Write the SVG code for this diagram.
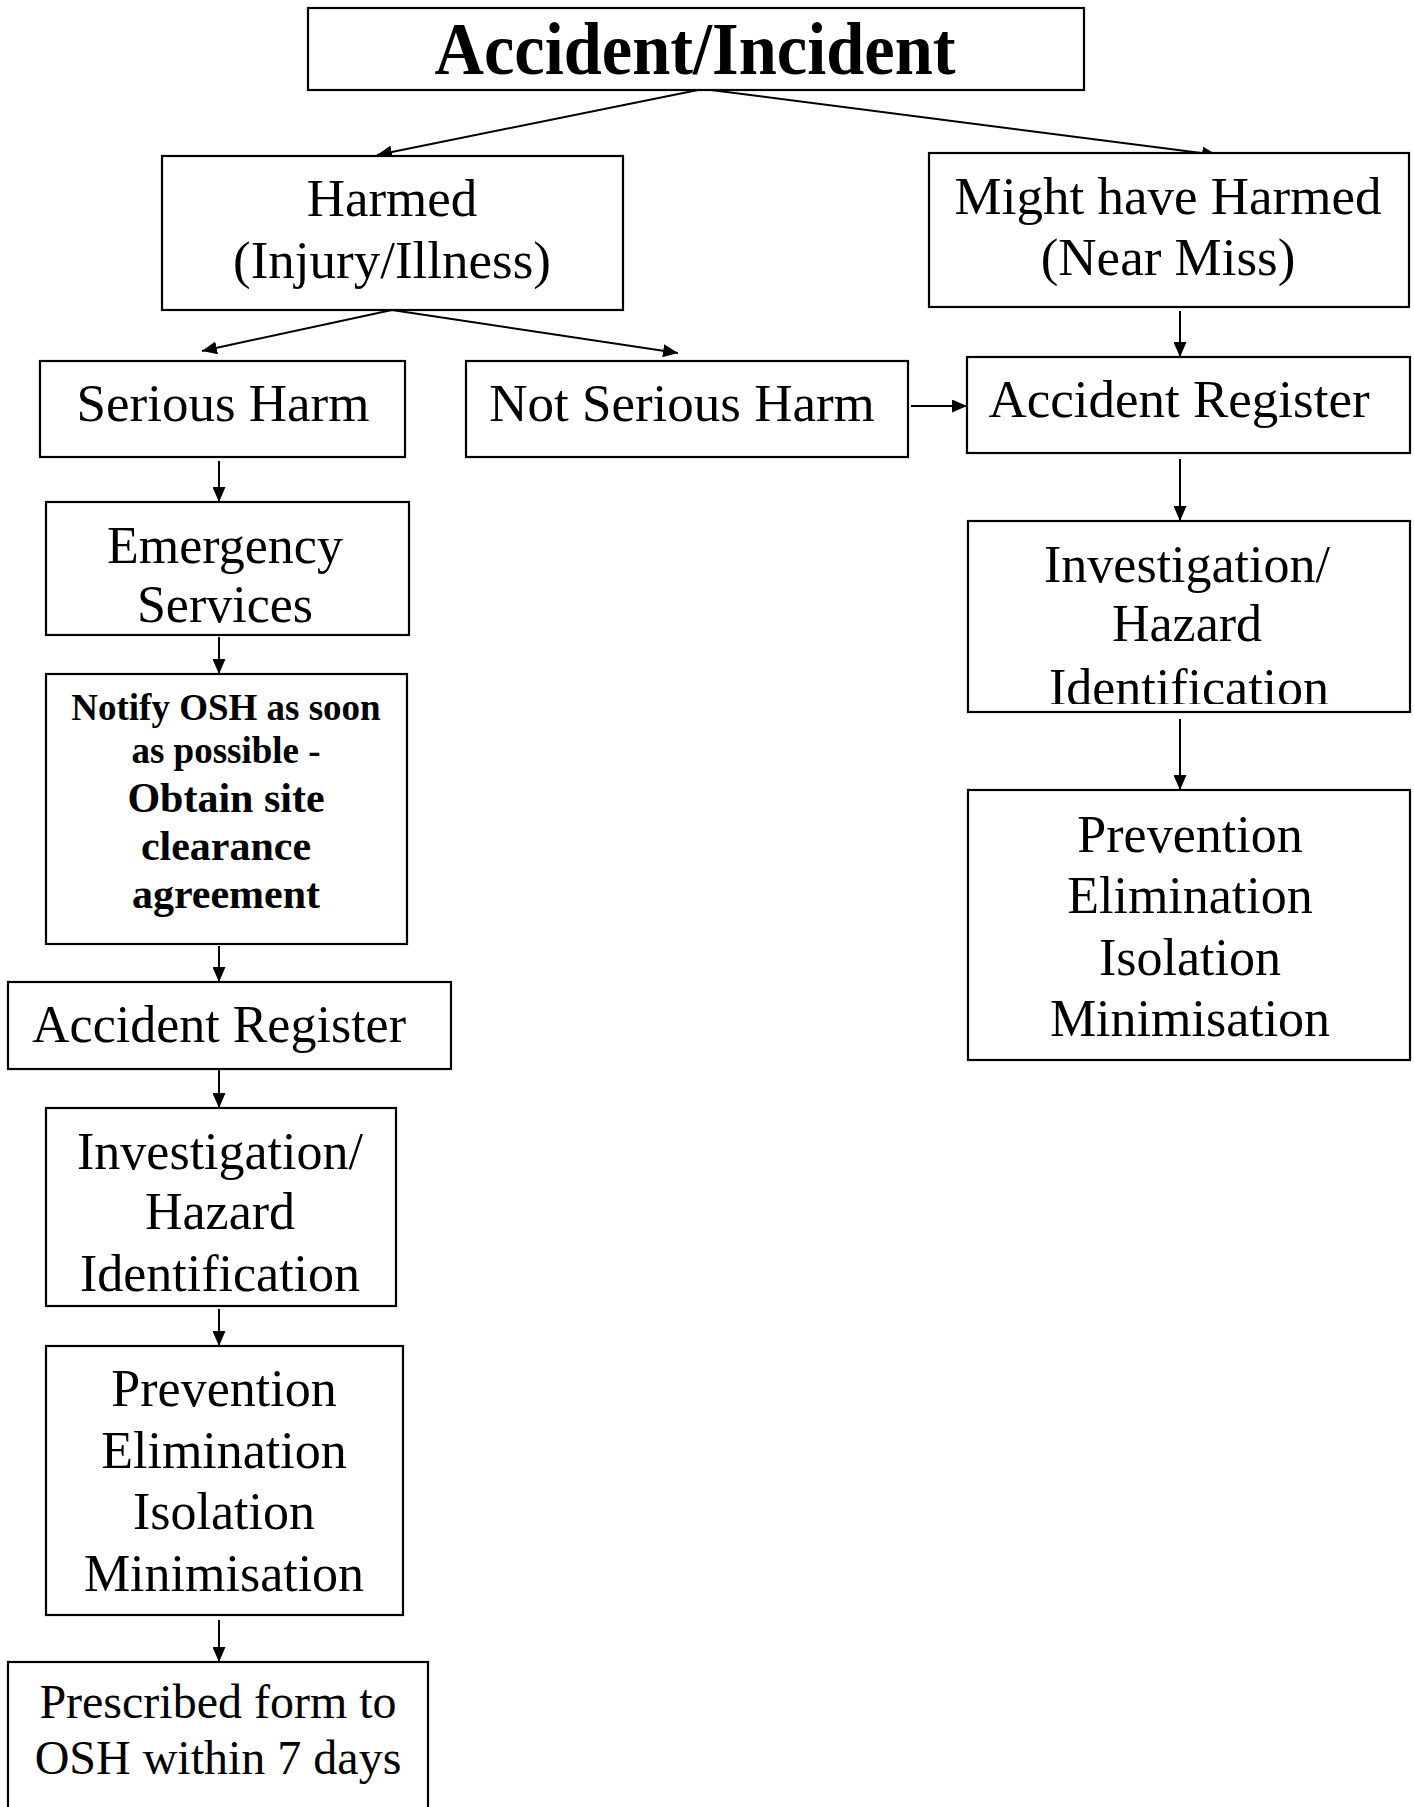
<svg xmlns="http://www.w3.org/2000/svg" width="1414" height="1807" viewBox="0 0 1414 1807">
<style>
.box{fill:#fff;stroke:#000;stroke-width:2.2}
.t{font-family:"Liberation Serif","Times New Roman",serif;font-size:52px;fill:#000;text-anchor:middle}
.b{font-weight:bold}
.c{stroke:#000;stroke-width:2;fill:none;marker-end:url(#ah)}
</style>
<defs>
<marker id="ah" markerUnits="userSpaceOnUse" markerWidth="16" markerHeight="13" refX="15" refY="6.5" orient="auto">
<path d="M0,0 L15,6.5 L0,13 z" fill="#000"/>
</marker>
<clipPath id="clipR"><rect x="968" y="521" width="442" height="183"/></clipPath>
</defs>
<rect width="1414" height="1807" fill="#fff"/>

<g id="connectors">
<line class="c" x1="703" y1="89" x2="377" y2="155"/>
<line class="c" x1="703" y1="89" x2="1217" y2="155"/>
<line class="c" x1="392" y1="310" x2="202" y2="351"/>
<line class="c" x1="392" y1="310" x2="678" y2="353"/>
<line class="c" x1="1180" y1="311" x2="1180" y2="357"/>
<line class="c" x1="911" y1="406" x2="967" y2="406"/>
<line class="c" x1="1180" y1="459" x2="1180" y2="521"/>
<line class="c" x1="1180" y1="719" x2="1180" y2="790"/>
<line class="c" x1="219" y1="461" x2="219" y2="502"/>
<line class="c" x1="219" y1="637" x2="219" y2="674"/>
<line class="c" x1="219" y1="946" x2="219" y2="982"/>
<line class="c" x1="219" y1="1070" x2="219" y2="1108"/>
<line class="c" x1="219" y1="1309" x2="219" y2="1346"/>
<line class="c" x1="219" y1="1620" x2="219" y2="1662"/>
</g>

<g id="accident-incident">
<rect class="box" x="308" y="8" width="776" height="82"/>
<text class="t b" x="695" y="74" style="font-size:73px" textLength="521" lengthAdjust="spacingAndGlyphs">Accident/Incident</text>
</g>

<g id="harmed">
<rect class="box" x="162" y="156" width="461" height="154"/>
<text class="t" x="392" y="216" style="font-size:53px">Harmed</text>
<text class="t" x="392" y="278" style="font-size:53px">(Injury/Illness)</text>
</g>

<g id="might-have-harmed">
<rect class="box" x="929" y="153" width="480" height="154"/>
<text class="t" x="1168" y="214" style="font-size:53px">Might have Harmed</text>
<text class="t" x="1168" y="275" style="font-size:53px">(Near Miss)</text>
</g>

<g id="serious-harm">
<rect class="box" x="40" y="361" width="365" height="96"/>
<text class="t" x="223" y="421" style="font-size:53px">Serious Harm</text>
</g>

<g id="not-serious-harm">
<rect class="box" x="466" y="361" width="442" height="96"/>
<text class="t" x="682" y="421" style="font-size:53px">Not Serious Harm</text>
</g>

<g id="accident-register-right">
<rect class="box" x="967" y="357" width="443" height="96"/>
<text class="t" x="1179" y="417" style="font-size:53px">Accident Register</text>
</g>

<g id="investigation-right">
<rect class="box" x="968" y="521" width="442" height="191"/>
<text class="t" x="1187" y="582">Investigation/</text>
<text class="t" x="1187" y="641">Hazard</text>
<text class="t" x="1189" y="705" clip-path="url(#clipR)">Identification</text>
</g>

<g id="prevention-right">
<rect class="box" x="968" y="790" width="442" height="270"/>
<text class="t" x="1190" y="852">Prevention</text>
<text class="t" x="1190" y="913">Elimination</text>
<text class="t" x="1190" y="975">Isolation</text>
<text class="t" x="1190" y="1036">Minimisation</text>
</g>

<g id="emergency-services">
<rect class="box" x="46" y="502" width="363" height="133"/>
<text class="t" x="225" y="563">Emergency</text>
<text class="t" x="225" y="622">Services</text>
</g>

<g id="notify-osh">
<rect class="box" x="46" y="674" width="361" height="270"/>
<text class="t b" x="226" y="720" style="font-size:37px">Notify OSH as soon</text>
<text class="t b" x="226" y="763" style="font-size:37px">as possible -</text>
<text class="t b" x="226" y="812" style="font-size:42px">Obtain site</text>
<text class="t b" x="226" y="860" style="font-size:42px">clearance</text>
<text class="t b" x="226" y="908" style="font-size:42px">agreement</text>
</g>

<g id="accident-register-left">
<rect class="box" x="8" y="982" width="443" height="87"/>
<text class="t" x="219" y="1042">Accident Register</text>
</g>

<g id="investigation-left">
<rect class="box" x="46" y="1108" width="350" height="198"/>
<text class="t" x="220" y="1169">Investigation/</text>
<text class="t" x="220" y="1229">Hazard</text>
<text class="t" x="220" y="1291">Identification</text>
</g>

<g id="prevention-left">
<rect class="box" x="46" y="1346" width="357" height="269"/>
<text class="t" x="224" y="1406">Prevention</text>
<text class="t" x="224" y="1468">Elimination</text>
<text class="t" x="224" y="1529">Isolation</text>
<text class="t" x="224" y="1591">Minimisation</text>
</g>

<g id="prescribed-form">
<rect class="box" x="8" y="1662" width="420" height="170"/>
<text class="t" x="218" y="1718" style="font-size:48px">Prescribed form to</text>
<text class="t" x="218" y="1774" style="font-size:48px">OSH within 7 days</text>
</g>
</svg>
